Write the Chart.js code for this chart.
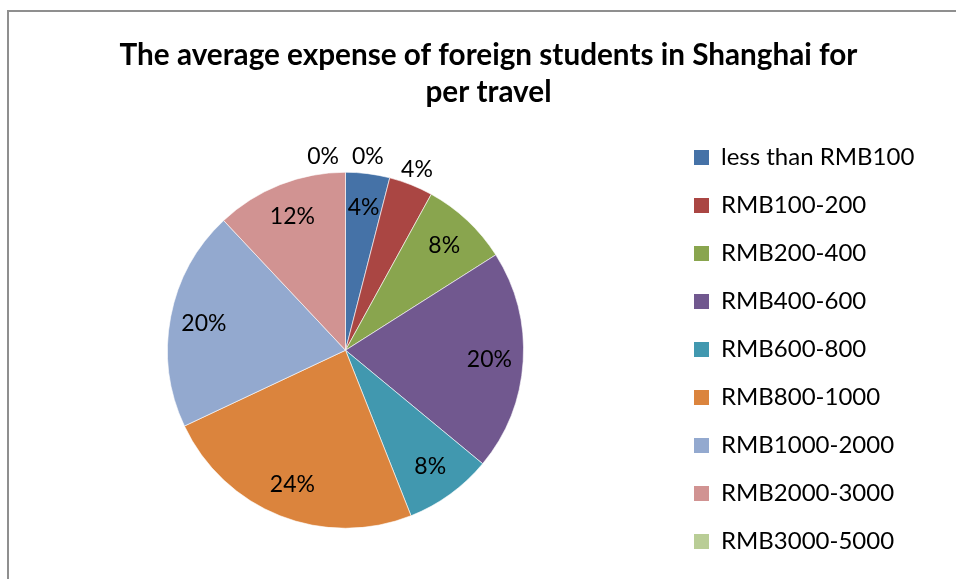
<!DOCTYPE html>
<html>
<head>
<meta charset="utf-8">
<script src="https://cdn.jsdelivr.net/npm/chart.js@4/dist/chart.umd.min.js"></script>
<style>
  html, body { margin: 0; padding: 0; background: #fff; overflow: hidden; width: 956px; height: 579px; }
  #frame { position: absolute; left: 7px; top: 10px; width: 2000px; height: 2000px;
           border-left: 2px solid #8f8f8f; border-top: 2px solid #8f8f8f; pointer-events: none; }
  #wrap { position: absolute; left: 0; top: 0; width: 956px; height: 590px; }
</style>
</head>
<body>
<div id="frame"></div>
<div id="wrap"><canvas id="c" width="956" height="590"></canvas></div>
<script>
// ---- data ----
const titleLines = ['The average expense of foreign students in Shanghai for', 'per travel'];
const categories = ['less than RMB100', 'RMB100-200', 'RMB200-400', 'RMB400-600', 'RMB600-800',
                    'RMB800-1000', 'RMB1000-2000', 'RMB2000-3000', 'RMB3000-5000', 'more than RMB5000'];
const shares = [4, 4, 8, 20, 8, 24, 20, 12, 0, 0];   // percent
const sliceColors = ['#4572A7', '#AA4643', '#89A54E', '#71588F', '#4198AF',
                     '#DB843D', '#93A9CF', '#D19392', '#B9CD96', '#A99BBD'];

// ---- style / layout settings ----
const FONT = 'Lato';
const LABEL_SIZE = 23;
const LEGEND_SIZE = 24;
const LEGEND_PAD = 24;
const LEGEND_BOX = 15;
const visibleLegendItems = 9;   // the reference crops the last legend entry

const mctx = document.createElement('canvas').getContext('2d');
mctx.font = 'normal ' + LEGEND_SIZE + 'px ' + FONT;
let maxText = 0;
categories.slice(0, visibleLegendItems).forEach(t => { maxText = Math.max(maxText, mctx.measureText(t).width); });
const colWidth = LEGEND_BOX + LEGEND_SIZE / 2 + maxText;
const legendLeftTarget = 670;
const spacer = Math.max(2, 956 - legendLeftTarget - (LEGEND_PAD + colWidth + 10));

const pieLabels = {
  id: 'pieLabels',
  afterDatasetsDraw(chart, args, opts) {
    const meta = chart.getDatasetMeta(0);
    const data = chart.data.datasets[0].data;
    const total = data.reduce((a, b) => a + b, 0);
    const ctx = chart.ctx;
    ctx.save();
    ctx.font = opts.size + 'px ' + opts.family;
    ctx.fillStyle = '#000';
    ctx.textAlign = 'center';
    ctx.textBaseline = 'middle';
    const items = [];
    meta.data.forEach((arc, i) => {
      const p = arc.getProps(['x', 'y', 'startAngle', 'endAngle', 'outerRadius'], true);
      const mid = (p.startAngle + p.endAngle) / 2;
      const outside = opts.outside.includes(i);
      const r = p.outerRadius * (outside ? opts.outerFactor : opts.innerFactor);
      const text = Math.round(data[i] / total * 100) + '%';
      items.push({ x: p.x + Math.cos(mid) * r, y: p.y + Math.sin(mid) * r, text, w: ctx.measureText(text).width });
    });
    const used = new Array(items.length).fill(false);
    for (let i = 0; i < items.length; i++) {
      if (used[i]) continue;
      const group = [i];
      for (let j = i + 1; j < items.length; j++) {
        if (!used[j] && Math.abs(items[j].x - items[i].x) < 1 && Math.abs(items[j].y - items[i].y) < 1) group.push(j);
      }
      group.forEach((k, n) => {
        used[k] = true;
        const step = items[k].w + opts.gap;
        items[k].x += (n - (group.length - 1) / 2) * step;
      });
    }
    items.forEach(it => ctx.fillText(it.text, it.x, it.y));
    ctx.restore();
  }
};

new Chart(document.getElementById('c'), {
  type: 'pie',
  data: {
    labels: categories,
    datasets: [{
      data: shares,
      backgroundColor: sliceColors,
      borderColor: '#ffffff',
      borderWidth: 0.6,
      radius: 178
    }]
  },
  options: {
    responsive: false,
    animation: false,
    devicePixelRatio: 1,
    layout: { padding: { left: 21, right: 0, top: 0, bottom: 0 } },
    plugins: {
      title: {
        display: true,
        text: titleLines,
        color: '#000',
        font: { family: FONT, size: 29.7, weight: 'bold', lineHeight: 37 / 29.7 },
        padding: { top: 36.5, bottom: 0 }
      },
      subtitle: {
        display: true,
        position: 'right',
        fullSize: false,
        text: ' ',
        font: { size: 1, lineHeight: 1 },
        padding: { top: spacer - 1, bottom: 0 }
      },
      legend: {
        position: 'right',
        align: 'start',
        maxWidth: 400,
        title: { display: true, text: ' ', font: { size: 10, lineHeight: 1 }, padding: { top: 111.5, bottom: 0 } },
        labels: {
          color: '#000',
          font: { family: FONT, size: LEGEND_SIZE },
          boxWidth: LEGEND_BOX,
          boxHeight: LEGEND_BOX,
          padding: LEGEND_PAD,
          generateLabels(chart) {
            return chart.data.labels.map((t, i) => ({
              text: t, fillStyle: sliceColors[i], strokeStyle: sliceColors[i], fontColor: '#000',
              lineWidth: 0, hidden: false, index: i
            }));
          },
          filter: (item) => item.index < visibleLegendItems
        }
      },
      tooltip: { enabled: false },
      pieLabels: { family: FONT, size: LABEL_SIZE, outside: [1, 8, 9], innerFactor: 0.81, outerFactor: 1.09, gap: 13 }
    }
  },
  plugins: [pieLabels]
});
</script>
</body>
</html>
